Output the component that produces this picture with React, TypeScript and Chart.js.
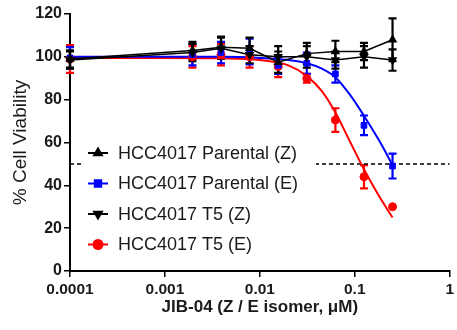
import React, { useEffect, useRef } from 'react';
import { Chart, registerables } from 'chart.js';
import { drawPoint } from 'chart.js/helpers';

Chart.register(...registerables);

// ---- data ----
const doses = [0.0001, 0.00195, 0.0039, 0.0078, 0.0156, 0.03125, 0.0625, 0.125, 0.25];

const parentalZ = [99, 103, 104.5, 104, 97.5, 101.5, 102.5, 102.5, 108];
const parentalZErr = [4, 4, 5, 5, 5, 5, 5, 4, 10];

const parentalE = [99.5, 101, 102, 102.5, 96, 97, 92, 68, 49];
const parentalEErr = [5, 5, 5, 6, 4, 5, 4, 4.6, 5.8];

const t5Z = [98.5, 102, 104, 101, 100, 100, 98.5, 100, 98.5];
const t5ZErr = [4, 4, 5, 4, 5, 5, 4, 5, 5];

const t5E = [99, 100, 101, 100, 95.5, 90, 70.5, 44, 30];
const t5EErr = [6.5, 5, 5, 5, 5, 2, 5.5, 5.4, 0];

// fitted curves
const fitX = [0.0001, 0.001, 0.004, 0.01, 0.02, 0.03125, 0.045, 0.0625, 0.09, 0.125, 0.18, 0.25];
const fitParentalE = [100, 100, 100, 99.5, 98.5, 97, 94.5, 90.5, 82, 72.5, 61, 49.5];
const fitT5E = [99.5, 99.5, 99.3, 98.5, 96, 91, 84, 74, 60, 47.5, 35, 25];

const cutoff = 50;

const xTicks = [0.0001, 0.001, 0.01, 0.1, 1];
const xTickLabels = ['0.0001', '0.001', '0.01', '0.1', '1'];

const legendLabels = ['HCC4017 Parental (Z)', 'HCC4017 Parental (E)', 'HCC4017 T5 (Z)', 'HCC4017 T5 (E)'];

const BLACK = '#000000';
const BLUE = '#0000ff';
const RED = '#ff0000';
const FONT = "'Liberation Sans', Arial, sans-serif";

const pts = (xs: number[], ys: number[]) => xs.map((x, i) => ({ x, y: ys[i] }));

const errorBarPlugin = {
  id: 'errorBars',
  beforeDatasetsDraw(chart: any) {
    const { ctx, scales } = chart;
    const x = scales.x, y = scales.y;
    const sets = [
      { vals: t5E, errs: t5EErr, color: RED },
      { vals: parentalE, errs: parentalEErr, color: BLUE },
      { vals: t5Z, errs: t5ZErr, color: BLACK },
      { vals: parentalZ, errs: parentalZErr, color: BLACK },
    ];
    ctx.save();
    for (const s of sets) {
      ctx.strokeStyle = s.color;
      ctx.lineWidth = 2.2;
      doses.forEach((d, i) => {
        const e = s.errs[i];
        if (!e) return;
        const px = x.getPixelForValue(d);
        const top = y.getPixelForValue(s.vals[i] + e);
        const bot = y.getPixelForValue(s.vals[i] - e);
        ctx.beginPath();
        ctx.moveTo(px, top); ctx.lineTo(px, bot);
        ctx.moveTo(px - 4, top); ctx.lineTo(px + 4, top);
        ctx.moveTo(px - 4, bot); ctx.lineTo(px + 4, bot);
        ctx.stroke();
      });
    }
    ctx.restore();
  },
};

const legendPlugin = {
  id: 'insideLegend',
  afterDatasetsDraw(chart: any) {
    const { ctx } = chart;
    ctx.save();
    ctx.fillStyle = '#ffffff';
    ctx.fillRect(83, 139, 233, 120);
    const items = [
      { color: BLACK, style: 'triangle', rot: 0 },
      { color: BLUE, style: 'rect', rot: 0 },
      { color: BLACK, style: 'triangle', rot: 180 },
      { color: RED, style: 'circle', rot: 0 },
    ];
    const ys = [153, 183.5, 214, 244.5];
    items.forEach((it, i) => {
      const yy = ys[i];
      ctx.strokeStyle = it.color;
      ctx.lineWidth = 2;
      ctx.beginPath();
      ctx.moveTo(88, yy);
      ctx.lineTo(108, yy);
      ctx.stroke();
      ctx.fillStyle = it.color;
      drawPoint(ctx, { pointStyle: it.style, radius: 4.5, rotation: it.rot, borderWidth: 1 } as any, 98, yy);
      ctx.fillStyle = '#1a1a1a';
      ctx.font = `18px ${FONT}`;
      ctx.textBaseline = 'middle';
      ctx.textAlign = 'left';
      ctx.fillText(legendLabels[i], 118, yy + 1);
    });
    ctx.restore();
  },
};

export default function App() {
  const ref = useRef<HTMLCanvasElement>(null);
  useEffect(() => {
    const canvas = ref.current!;
    const pointCommon = { showLine: false, clip: false as any, pointBorderWidth: 1 };
    const chart = new Chart(canvas, {
      type: 'line',
      data: {
        datasets: [
          {
            label: legendLabels[0],
            data: pts(doses, parentalZ),
            borderColor: BLACK, backgroundColor: BLACK,
            borderWidth: 1.5, pointStyle: 'triangle', pointRadius: 4,
            pointBackgroundColor: BLACK, pointBorderColor: BLACK,
            clip: false as any, tension: 0,
          },
          {
            label: legendLabels[2],
            data: pts(doses, t5Z),
            borderColor: BLACK, backgroundColor: BLACK,
            borderWidth: 1.5, pointStyle: 'triangle', pointRotation: 180, pointRadius: 4,
            pointBackgroundColor: BLACK, pointBorderColor: BLACK,
            clip: false as any, tension: 0,
          },
          {
            label: legendLabels[1],
            data: pts(doses, parentalE),
            borderColor: BLUE, backgroundColor: BLUE,
            pointStyle: 'rect', pointRadius: 4,
            pointBackgroundColor: BLUE, pointBorderColor: BLUE,
            ...pointCommon,
          },
          {
            label: legendLabels[3],
            data: pts(doses, t5E),
            borderColor: RED, backgroundColor: RED,
            pointStyle: 'circle', pointRadius: 4,
            pointBackgroundColor: RED, pointBorderColor: RED,
            ...pointCommon,
          },
          {
            label: 'fitE',
            data: pts(fitX, fitParentalE),
            borderColor: BLUE, borderWidth: 2, pointRadius: 0,
            cubicInterpolationMode: 'monotone',
          },
          {
            label: 'fitT5',
            data: pts(fitX, fitT5E),
            borderColor: RED, borderWidth: 2, pointRadius: 0,
            cubicInterpolationMode: 'monotone',
          },
          {
            label: 'cutoff',
            data: [{ x: xTicks[0], y: cutoff }, { x: xTicks[xTicks.length - 1], y: cutoff }],
            borderColor: BLACK, borderWidth: 1.5, borderDash: [4, 3], pointRadius: 0,
          },
        ] as any,
      },
      options: {
        responsive: false,
        animation: false,
        devicePixelRatio: 1,
        layout: { padding: { top: 14, right: 4, left: 0, bottom: 0 } },
        plugins: { legend: { display: false }, tooltip: { enabled: false } },
        scales: {
          x: {
            type: 'logarithmic',
            min: 0.0001,
            max: 1,
            afterBuildTicks: (axis: any) => {
              axis.ticks = xTicks.map((v) => ({ value: v }));
            },
            ticks: {
              color: '#1a1a1a',
              font: { family: FONT, size: 15.5, weight: 'bold' },
              padding: 3,
              maxRotation: 0,
              autoSkip: false,
              callback: (v: any) => {
                const i = xTicks.findIndex((t) => Math.abs(t - v) / t < 1e-6);
                return i >= 0 ? xTickLabels[i] : '';
              },
            },
            grid: { drawOnChartArea: false, drawTicks: true, tickLength: 6, color: BLACK, lineWidth: 1.5 },
            border: { color: BLACK, width: 2 },
            title: {
              display: true,
              text: 'JIB-04 (Z / E isomer, μM)',
              color: '#1a1a1a',
              font: { family: FONT, size: 17, weight: 'bold' },
              padding: { top: 0, bottom: 12 },
            },
            afterFit: (s: any) => { s.height = 59; },
          } as any,
          y: {
            type: 'linear',
            min: 0,
            max: 120,
            ticks: {
              stepSize: 20,
              color: '#1a1a1a',
              font: { family: FONT, size: 16, weight: 'bold' },
              padding: 2,
            },
            grid: { drawOnChartArea: false, drawTicks: true, tickLength: 6, color: BLACK, lineWidth: 1.5 },
            border: { color: BLACK, width: 2 },
            title: {
              display: true,
              text: '% Cell Viability',
              color: '#1a1a1a',
              font: { family: FONT, size: 19 },
              padding: { top: 9, bottom: 0 },
            },
            afterFit: (s: any) => { s.width = 70; },
          } as any,
        },
      },
      plugins: [errorBarPlugin, legendPlugin],
    });
    return () => chart.destroy();
  }, []);
  return (
    <div style={{ position: 'absolute', left: 0, top: 0, width: 457, height: 330, background: '#fff' }}>
      <canvas ref={ref} width={457} height={330} style={{ display: 'block', width: 457, height: 330 }} />
    </div>
  );
}
